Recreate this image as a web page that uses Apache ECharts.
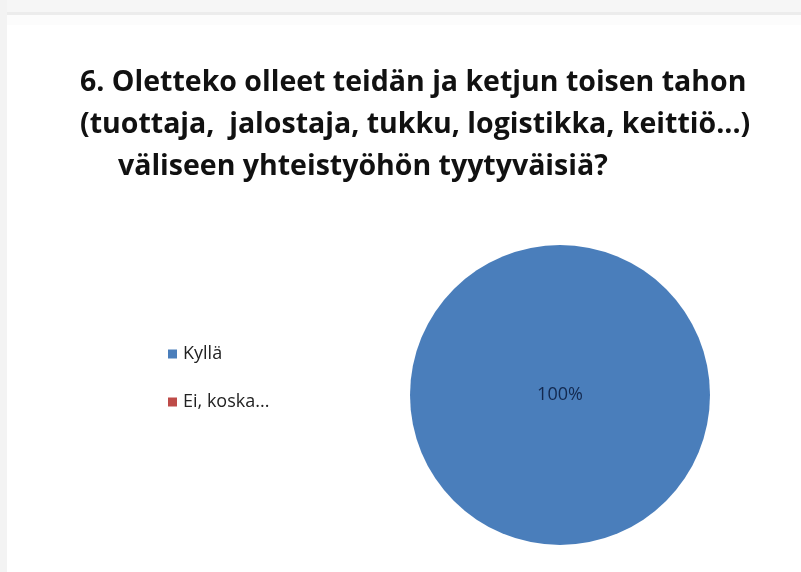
<!DOCTYPE html>
<html>
<head>
<meta charset="utf-8">
<script src="https://cdn.jsdelivr.net/npm/echarts@6/dist/echarts.min.js"></script>
<style>
  html, body { margin: 0; padding: 0; background: #ffffff; }
  #chart { width: 801px; height: 572px; }
</style>
</head>
<body>
<div id="chart"></div>
<script>
// Survey question 6: satisfaction with cooperation along the supply chain
const titleLines = [
  '6. Oletteko olleet teidän ja ketjun toisen tahon',
  '(tuottaja,  jalostaja, tukku, logistikka, keittiö...)',
  'väliseen yhteistyöhön tyytyväisiä?'
];
const categories = ['Kyllä', 'Ei, koska...'];
const values = [100, 0];
const colors = ['#4a7ebb', '#be4b48'];

const chart = echarts.init(document.getElementById('chart'), null, { renderer: 'canvas' });

const titleFont = {
  fontFamily: 'Open Sans',
  fontWeight: 'bold',
  fontSize: 28.5,
  color: '#111111'
};

const total = values.reduce((a, b) => a + b, 0);

chart.setOption({
  animation: false,
  backgroundColor: '#ffffff',
  color: colors,
  graphic: [
    { type: 'rect', shape: { x: 0, y: 0, width: 801, height: 12 }, style: { fill: '#f6f6f6' }, silent: true },
    { type: 'rect', shape: { x: 0, y: 12, width: 801, height: 3 }, style: { fill: '#ececec' }, silent: true },
    { type: 'rect', shape: { x: 7, y: 15, width: 794, height: 10 }, style: { fill: '#fcfcfc' }, silent: true },
    { type: 'rect', shape: { x: 0, y: 0, width: 7, height: 572 }, style: { fill: '#f3f3f3' }, silent: true }
  ],
  title: [
    { text: titleLines[0], left: 75, top: 63, textStyle: titleFont },
    { text: titleLines[1], left: 75, top: 105, textStyle: titleFont },
    { text: titleLines[2], left: 113, top: 147, textStyle: titleFont }
  ],
  legend: {
    orient: 'vertical',
    left: 163,
    top: 340,
    itemWidth: 9,
    itemHeight: 9,
    itemGap: 30,
    icon: 'rect',
    data: categories,
    textStyle: {
      fontFamily: 'Open Sans',
      fontSize: 18,
      color: '#222222',
      padding: [0, 0, 0, 1]
    }
  },
  series: [{
    type: 'pie',
    center: [560, 395],
    radius: [0, 150],
    startAngle: 90,
    avoidLabelOverlap: false,
    itemStyle: { borderWidth: 0 },
    label: {
      show: true,
      position: 'center',
      fontFamily: 'Open Sans',
      fontSize: 18,
      color: '#13294f',
      formatter: p => Math.round(p.value / total * 100) + '%'
    },
    labelLine: { show: false },
    emphasis: { disabled: true },
    data: categories.map((name, i) => ({
      name: name,
      value: values[i],
      label: { show: values[i] > 0 }
    }))
  }]
});
</script>
</body>
</html>
